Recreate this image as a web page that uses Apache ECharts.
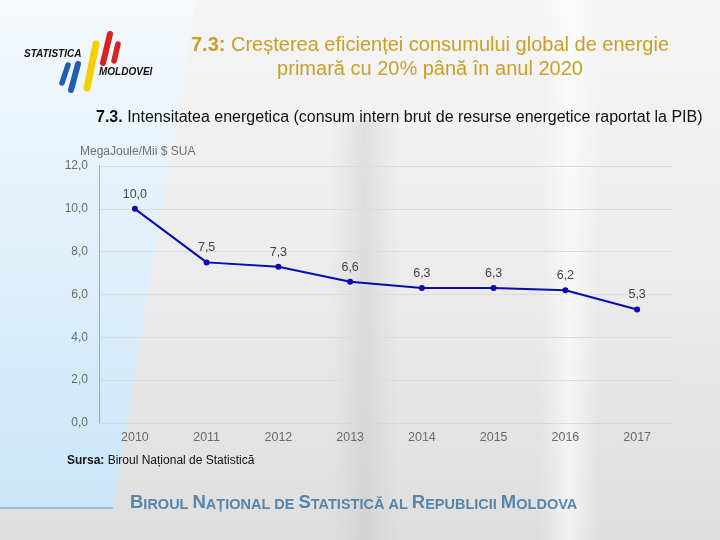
<!DOCTYPE html>
<html><head><meta charset="utf-8">
<script src="https://cdn.jsdelivr.net/npm/echarts@6/dist/echarts.min.js"></script>
<style>html,body{margin:0;padding:0;}#c{width:720px;height:540px;}</style>
</head><body><div id="c"></div>
<script>
var years = ['2010','2011','2012','2013','2014','2015','2016','2017'];
var intensity = [10.0, 7.5, 7.3, 6.6, 6.3, 6.3, 6.2, 5.3];
var yTicks = {min: 0, max: 12, interval: 2};

var fmt = function(v){ return v.toFixed(1).replace('.', ','); };
var chart = echarts.init(document.getElementById('c'));
var F = 'Liberation Sans, Arial, sans-serif';
chart.setOption({
  animation: false,
  backgroundColor: '#e4e4e4',
  graphic: [
    {type:'rect', z:-100, shape:{x:0,y:0,width:720,height:540},
     style:{fill:new echarts.graphic.LinearGradient(0,0,0,1,[{offset:0,color:'#f5f5f5'},{offset:0.5,color:'#ececec'},{offset:1,color:'#dedede'}])}},
    {type:'rect', z:-99, shape:{x:540,y:0,width:60,height:540},
     style:{fill:new echarts.graphic.LinearGradient(0,0,1,0,[{offset:0,color:'rgba(255,255,255,0)'},{offset:0.5,color:'rgba(255,255,255,0.6)'},{offset:1,color:'rgba(255,255,255,0)'}])}},
    {type:'rect', z:-99, shape:{x:330,y:120,width:70,height:420},
     style:{fill:new echarts.graphic.LinearGradient(0,0,1,0,[{offset:0,color:'rgba(200,200,200,0)'},{offset:0.5,color:'rgba(190,190,190,0.35)'},{offset:1,color:'rgba(200,200,200,0)'}])}},
    {type:'polygon', z:-98, shape:{points:[[0,0],[196,0],[113,508],[0,508]]},
     style:{fill:new echarts.graphic.LinearGradient(0,0,0,1,[{offset:0,color:'#f6f9fc'},{offset:0.3,color:'#e8f3fb'},{offset:1,color:'#c9e6f8'}])}},
    {type:'line', z:-97, shape:{x1:0,y1:508,x2:113,y2:508}, style:{stroke:'#8fb3cc',lineWidth:1.5}},
    // logo bars
    {type:'line', z:5, shape:{x1:62,y1:83,x2:68,y2:65}, style:{stroke:'#1f5fb0',lineWidth:5.5,lineCap:'round'}},
    {type:'line', z:5, shape:{x1:71,y1:90,x2:78,y2:64}, style:{stroke:'#1f5fb0',lineWidth:6,lineCap:'round'}},
    {type:'line', z:5, shape:{x1:87,y1:88,x2:96,y2:44}, style:{stroke:'#f5d000',lineWidth:7,lineCap:'round'}},
    {type:'line', z:5, shape:{x1:103,y1:63,x2:110,y2:34}, style:{stroke:'#d8221f',lineWidth:6,lineCap:'round'}},
    {type:'line', z:5, shape:{x1:114,y1:61,x2:118,y2:44}, style:{stroke:'#d8221f',lineWidth:5.5,lineCap:'round'}},
    {type:'text', z:5, left:24, top:49, style:{text:'STATISTICA', font:'italic bold 10px '+F, fill:'#111'}},
    {type:'text', z:5, left:99, top:67, style:{text:'MOLDOVEI', font:'italic bold 10px '+F, fill:'#111'}},
    // title
    {type:'text', z:5, x:430, y:57, style:{
      text:'{b|7.3:} Creșterea eficienței consumului global de energie\nprimară cu 20% până în anul 2020',
      align:'center', verticalAlign:'middle', lineHeight:24,
      font:'20px '+F, fill:'#c9a027',
      rich:{b:{fontWeight:'bold', fontSize:20, fontFamily:F, fill:'#c9a027'}}
    }},
    {type:'text', z:5, left:96, top:110, style:{
      text:'{b|7.3.} Intensitatea energetica (consum intern brut de resurse energetice raportat la PIB)',
      font:'16px '+F, fill:'#111',
      rich:{b:{fontWeight:'bold', fontSize:16, fontFamily:F, fill:'#111'}}
    }},
    {type:'text', z:5, left:80, top:146, style:{text:'MegaJoule/Mii $ SUA', font:'12px '+F, fill:'#707070'}},
    {type:'text', z:5, left:67, top:455, style:{
      text:'{b|Sursa:} Biroul Național de Statistică', font:'12px '+F, fill:'#111',
      rich:{b:{fontWeight:'bold', fontSize:12, fontFamily:F, fill:'#111'}}
    }},
    {type:'text', z:5, left:130, top:493, style:{
      text:'{B|B}{s|IROUL }{B|N}{s|AȚIONAL DE }{B|S}{s|TATISTICĂ AL }{B|R}{s|EPUBLICII }{B|M}{s|OLDOVA}',
      rich:{B:{fontWeight:'bold', fontSize:18.5, fontFamily:F, fill:'#5886a8', verticalAlign:'bottom'},
            s:{fontWeight:'bold', fontSize:14.5, fontFamily:F, fill:'#5886a8', verticalAlign:'bottom'}}
    }}
  ],
  grid: {left: 99, right: 47, top: 166, bottom: 117, containLabel: false},
  xAxis: {
    type: 'category', data: years, boundaryGap: true,
    axisLine: {show: true, lineStyle: {color: '#d8d8d8'}},
    axisTick: {show: false},
    axisLabel: {color: '#6a6a6a', fontSize: 12.5, fontFamily: F, margin: 8}
  },
  yAxis: {
    type: 'value', min: yTicks.min, max: yTicks.max, interval: yTicks.interval,
    axisLine: {show: true, lineStyle: {color: '#a8a8a8'}},
    axisTick: {show: false},
    splitLine: {show: true, lineStyle: {color: '#dcdcdc'}},
    axisLabel: {color: '#6a6a6a', fontSize: 12, fontFamily: F, margin: 11, formatter: fmt}
  },
  series: [{
    type: 'line', data: intensity,
    lineStyle: {color: '#0a0ab0', width: 2},
    itemStyle: {color: '#0a0ab0'},
    symbol: 'circle', symbolSize: 6,
    label: {show: true, position: 'top', distance: 5, color: '#444', fontSize: 12.5, fontFamily: F, formatter: function(p){return fmt(p.value);}}
  }]
});
</script></body></html>
